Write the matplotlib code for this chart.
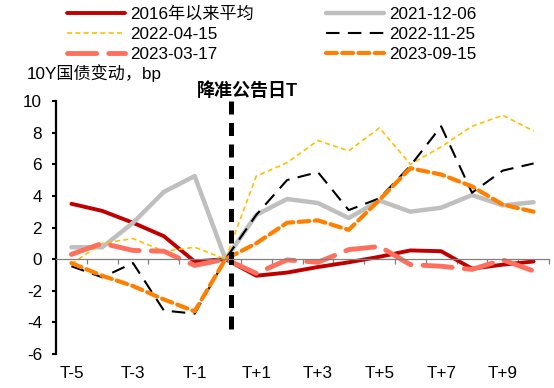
import numpy as np
import matplotlib
matplotlib.use("Agg")
import matplotlib.pyplot as plt

plt.rcParams['font.family'] = ['Liberation Sans', 'Noto Sans CJK SC', 'DejaVu Sans']
plt.rcParams['axes.unicode_minus'] = False

# x categories: T-5 ... T+10
days = ['T-5', 'T-4', 'T-3', 'T-2', 'T-1', 'T', 'T+1', 'T+2', 'T+3', 'T+4',
        'T+5', 'T+6', 'T+7', 'T+8', 'T+9', 'T+10']

avg_2016 = [3.5, 3.05, 2.3, 1.45, -0.15, 0, -1.05, -0.85, -0.5, -0.2, 0.15, 0.55, 0.5, -0.6, -0.35, -0.15]
d_211206 = [0.75, 0.75, 2.3, 4.25, 5.25, 0, 2.8, 3.8, 3.55, 2.6, 3.7, 3.0, 3.25, 4.05, 3.4, 3.6]
d_220415 = [-0.3, 1.0, 1.3, 0.5, 0.75, 0, 5.25, 6.1, 7.5, 6.85, 8.3, 6.0, 7.1, 8.4, 9.1, 8.1]
d_221125 = [-0.45, -1.15, -0.25, -3.25, -3.45, 0, 2.8, 5.0, 5.5, 3.1, 3.85, 5.9, 8.4, 4.2, 5.6, 6.05]
d_230317 = [0.3, 1.0, 0.55, 0.5, -0.4, 0, -0.9, -0.05, -0.2, 0.6, 0.8, -0.35, -0.45, -0.65, -0.05, -0.75]
d_230915 = [-0.25, -1.05, -1.7, -2.55, -3.3, 0, 1.0, 2.3, 2.45, 1.85, 3.75, 5.75, 5.35, 4.6, 3.45, 3.0]

fs = 12.3
x = np.arange(len(days))

fig = plt.figure(figsize=(5.54, 3.88), dpi=100)
ax = fig.add_axes([56 / 554, 1 - 354 / 388, 493 / 554, 253 / 388])

l1, = ax.plot(x, avg_2016, color='#C00000', lw=2.8, solid_joinstyle='round',
              solid_capstyle='round', label='2016年以来平均')
l2, = ax.plot(x, d_211206, color='#BFBFBF', lw=3.2, solid_joinstyle='round',
              solid_capstyle='round', label='2021-12-06')
l3, = ax.plot(x, d_220415, color='#FFC000', lw=1.2, dashes=(3, 2), label='2022-04-15')
l4, = ax.plot(x, d_221125, color='black', lw=1.5, dashes=(6.5, 4), label='2022-11-25')
l5, = ax.plot(x, d_230317, color='#FF6F5E', lw=3.5, dashes=(6, 2.5),
              dash_capstyle='round', label='2023-03-17')
l6, = ax.plot(x, d_230915, color='#FF8000', lw=3.0, dashes=(2.6, 1.3),
              dash_capstyle='round', label='2023-09-15')

# announcement day marker
ax.plot([5.18, 5.18], [10, -4.8], color='black', lw=3.6, dashes=(2.6, 1.7))

ax.set_xlim(-0.5, 15.5)
ax.set_ylim(-6, 10)

# axes styling
for s in ['top', 'right']:
    ax.spines[s].set_visible(False)
ax.spines['left'].set_linewidth(1.6)
ax.spines['bottom'].set_position(('data', 0))
ax.spines['bottom'].set_color('#808080')
ax.spines['bottom'].set_linewidth(0.9)

ax.set_yticks(np.arange(-6, 11, 2))
ax.tick_params(axis='y', direction='out', length=3, width=1.5, pad=7, labelsize=fs)
ax.set_xticks(x)
ax.set_xticks(np.arange(-0.5, 16, 1), minor=True)
ax.tick_params(axis='x', which='major', length=0, labelbottom=False)
ax.tick_params(axis='x', which='minor', direction='out', length=3.5,
               width=0.9, color='#808080')

secax = ax.secondary_xaxis('bottom')
secax.set_xticks(x[::2], days[::2])
secax.tick_params(length=0, pad=9, labelsize=fs)
secax.spines['bottom'].set_visible(False)

fig.text(27 / 554, 1 - 73 / 388, '10Y国债变动，bp', fontsize=fs, ha='left', va='center')
fig.text(197 / 554, 1 - 91 / 388, '降准公告日T', fontsize=13, fontweight='bold',
         ha='left', va='center')

fig.legend(handles=[l1, l3, l5, l2, l4, l6], ncol=2, loc='upper left',
           bbox_to_anchor=(67 / 554, 1 - 7 / 388), frameon=False, fontsize=fs,
           handlelength=3.4, handletextpad=0.3, columnspacing=4.2,
           labelspacing=0.28, borderpad=0, borderaxespad=0)

fig.savefig('out.png', dpi=100)
